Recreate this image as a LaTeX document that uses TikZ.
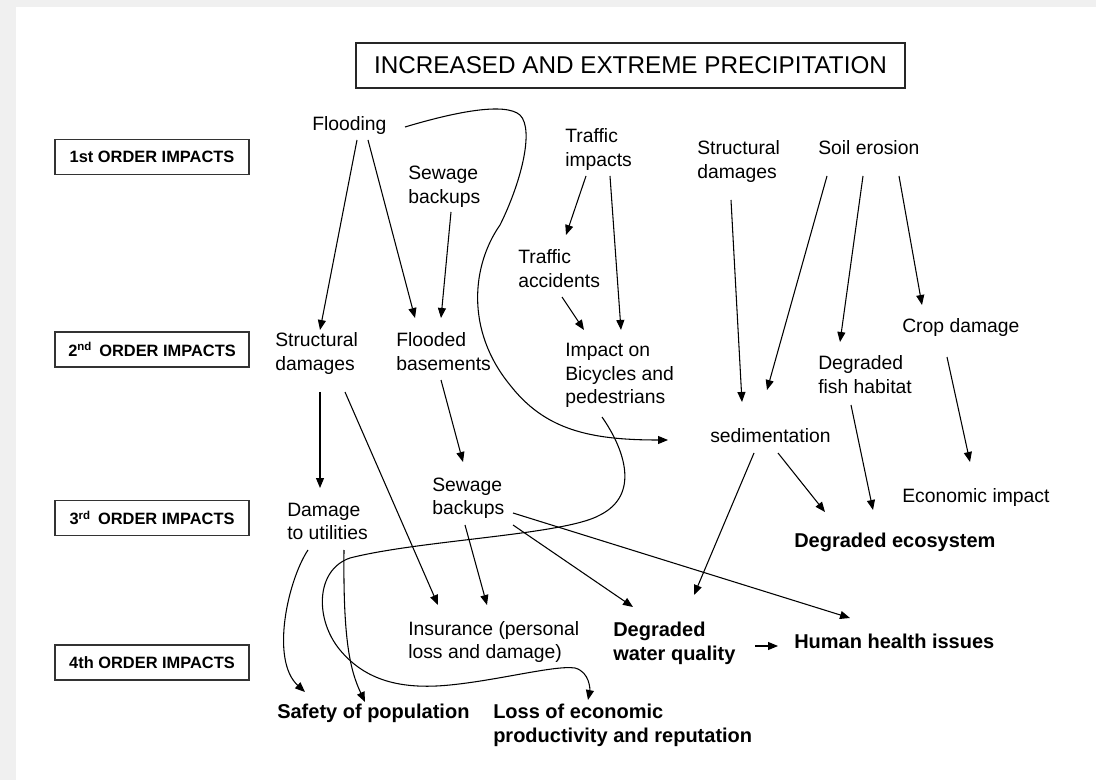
\documentclass[tikz,border=0pt]{standalone}
\usepackage{fontspec}
\setmainfont{Liberation Sans}
\usetikzlibrary{arrows.meta}

% every text node is anchored at the left end of its last baseline
\tikzset{
  txt/.style={inner sep=0pt, anchor=base west, align=left, text=black,
    font=\fontsize{14.5}{17.625}\selectfont},
  btxt/.style={txt, font=\fontsize{15}{18}\selectfont\bfseries},
  lvl/.style={draw=black!80, line width=1.1pt, minimum width=145.5pt,
    minimum height=26.5pt, inner sep=0pt, font=\fontsize{12.3}{14}\selectfont\bfseries},
  ttl/.style={draw=black!85, line width=1.1pt, minimum width=411.75pt,
    minimum height=33.75pt, inner sep=0pt, font=\fontsize{18.2}{22}\selectfont},
  link/.style={line width=0.8pt, -{Triangle[length=7.5pt,width=6pt]}},
}

\begin{document}
\begin{tikzpicture}[x=0.75pt,y=-0.75pt]
% sheet with a light frame along the top and left edges
\fill[gray!12] (0,0) rectangle (1096,780);
\fill[white] (16,7) rectangle (1096,780);
\useasboundingbox (0,0) rectangle (1096,780);

% heading
\node[ttl] (title) at (630.5,65.5) {INCREASED AND EXTREME PRECIPITATION};

% impact levels
\node[lvl] (lvl1) at (152,157)   {1st ORDER IMPACTS};
\node[lvl] (lvl2) at (152,349.5) {2\textsuperscript{nd}\, ORDER IMPACTS};
\node[lvl] (lvl3) at (152,518)   {3\textsuperscript{rd}\, ORDER IMPACTS};
\node[lvl] (lvl4) at (152,662.5) {4th ORDER IMPACTS};

% 1st order
\node[txt] (flood) at (312,131)   {Flooding};
\node[txt] (sew1)  at (408,203.5) {Sewage\\backups};
\node[txt] (trimp) at (565,166.5) {Traffic\\impacts};
\node[txt] (sd1)   at (697,178.5) {Structural\\damages};
\node[txt] (soil)  at (818,155)   {Soil erosion};

% 2nd order
\node[txt] (tracc) at (518,287.5) {Traffic\\accidents};
\node[txt] (sd2)   at (275,370.5) {Structural\\damages};
\node[txt] (flb)   at (396,370.5) {Flooded\\basements};
\node[txt] (bike)  at (565,404)   {Impact on\\Bicycles and\\pedestrians};
\node[txt] (crop)  at (902,333)   {Crop damage};
\node[txt] (fish)  at (818,393.5) {Degraded\\fish habitat};
\node[txt] (sed)   at (710,443)   {sedimentation};

% 3rd order
\node[txt] (sew3)  at (432,514.5) {Sewage\\backups};
\node[txt] (util)  at (287,539.5) {Damage\\to utilities};
\node[txt] (econ)  at (902,502)   {Economic impact};
\node[btxt] (eco)  at (794,547)   {Degraded ecosystem};

% 4th order
\node[txt] (ins)   at (408,658.5) {Insurance (personal\\loss and damage)};
\node[btxt] (wq)   at (613,660)   {Degraded\\water quality};
\node[btxt] (hh)   at (794,648)   {Human health issues};
\node[btxt] (safe) at (277,718)   {Safety of population};
\node[btxt] (loss) at (493,742)   {Loss of economic\\productivity and reputation};

% straight links
\draw[link] ([shift={(45,9)}]flood.base west) -- ([shift={(45,-40.5)}]sd2.base west);
\draw[link] ([shift={(56,9)}]flood.base west) -- ([shift={(19,-52.5)}]flb.base west);
\draw[link] ([shift={(43,8.5)}]sew1.base west) -- ([shift={(45,-52.5)}]flb.base west);
\draw[link] ([shift={(21,9.5)}]trimp.base west) -- ([shift={(48,-52.5)}]tracc.base west);
\draw[link] ([shift={(45,9.5)}]trimp.base west) -- ([shift={(56,-74)}]bike.base west);
\draw[link] ([shift={(44,9.5)}]tracc.base west) -- ([shift={(19,-74)}]bike.base west);
\draw[link] ([shift={(34,21.5)}]sd1.base west) -- ([shift={(32,-41)}]sed.base west);
\draw[link] ([shift={(9,21)}]soil.base west) -- ([shift={(57,-53)}]sed.base west);
\draw[link] ([shift={(45,21)}]soil.base west) -- ([shift={(22,-51.5)}]fish.base west);
\draw[link] ([shift={(81,21)}]soil.base west) -- ([shift={(20,-28)}]crop.base west);
\draw[link] ([shift={(45,24)}]crop.base west) -- ([shift={(68,-40)}]econ.base west);
\draw[link] ([shift={(33,11.5)}]fish.base west) -- ([shift={(79,-37)}]eco.base west);
\draw[link] ([shift={(68,10)}]sed.base west) -- ([shift={(31,-35)}]eco.base west);
\draw[link] ([shift={(44,10)}]sed.base west) -- ([shift={(81,-65)}]wq.base west);
\draw[link] ([shift={(45,21.5)}]sd2.base west) -- ([shift={(33,-51.5)}]util.base west);
\draw[link] ([shift={(70,21.5)}]sd2.base west) -- ([shift={(30,-53.5)}]ins.base west);
\draw[link] ([shift={(45,9.5)}]flb.base west) -- ([shift={(31,-52.5)}]sew3.base west);
\draw[link] ([shift={(33,10.5)}]sew3.base west) -- ([shift={(79,-53.5)}]ins.base west);
\draw[link] ([shift={(81,10.5)}]sew3.base west) -- ([shift={(20,-53)}]wq.base west);
\draw[link] ([shift={(81,-1.5)}]sew3.base west) -- ([shift={(56,-30)}]hh.base west);
\draw[link] ([shift={(142,-14)}]wq.base west) -- ([shift={(-16,-2)}]hh.base west);

% curved links
\draw[link] ([shift={(21,10.5)}]util.base west)
  .. controls (288,580) and (270,660) .. ([shift={(28,-26)}]safe.base west);
\draw[link] ([shift={(57,10.5)}]util.base west)
  .. controls (343,640) and (350,670) .. ([shift={(88,-16)}]safe.base west);

\draw[link] ([shift={(93,-4)}]flood.base west)
  .. controls (455,112) and (505,102) .. (520,115)
  .. controls (535,130) and (520,185) .. (500,225)
  .. controls (472,265) and (465,330) .. (510,385)
  .. controls (545,430) and (590,440) .. ([shift={(-42,-3)}]sed.base west);

\draw[link] ([shift={(37,13)}]bike.base west)
  .. controls (625,450) and (640,495) .. (600,515)
  .. controls (565,535) and (420,540) .. (350,558)
  .. controls (315,570) and (315,620) .. (340,650)
  .. controls (365,680) and (400,690) .. (450,685)
  .. controls (500,680) and (555,665) .. (575,668)
  .. controls (590,672) and (590,690) .. ([shift={(95,-42)}]loss.base west);
\end{tikzpicture}
\end{document}
